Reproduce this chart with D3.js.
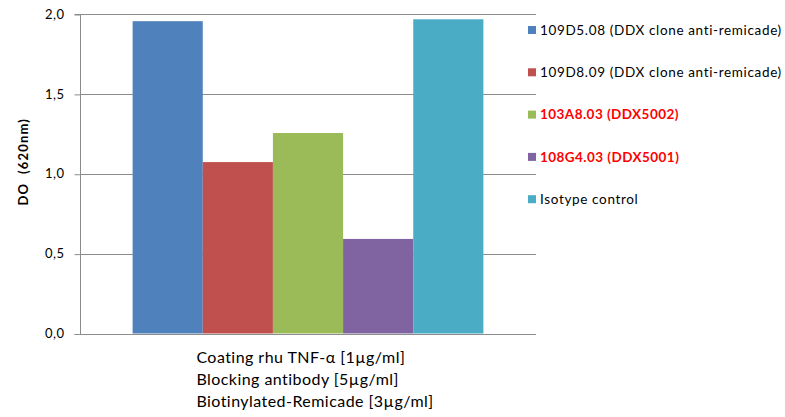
<!DOCTYPE html>
<html><head><meta charset="utf-8">
<script src="https://cdn.jsdelivr.net/npm/d3@7"></script>
<style>body{margin:0;background:#fff}</style>
</head><body>
<svg id="c" width="785" height="417"></svg>
<script>
const series = ["109D5.08 (DDX clone anti-remicade)","109D8.09 (DDX clone anti-remicade)","103A8.03 (DDX5002)","108G4.03 (DDX5001)","Isotype control"];
const values = [1.955, 1.073, 1.255, 0.592, 1.967];
const colors = ["#4f81bd","#c0504d","#9bbb59","#8064a2","#4bacc6"];
const legendTextColors = ["#000","#000","#ff0000","#ff0000","#000"];
const legendBold = [false,false,true,true,false];
const categoryLines = ["Coating rhu TNF-\u03b1 [1\u00b5g/ml]","Blocking antibody [5\u00b5g/ml]","Biotinylated-Remicade [3\u00b5g/ml]"];
const yTicks = [0,0.5,1.0,1.5,2.0];
const yTitle = "DO  (620nm)";

const svg = d3.select("#c");
const font = "Lato, 'Open Sans', sans-serif";
const L = 80, R = 536, T = 14, B = 333.5;
const y = d3.scaleLinear().domain([0,2]).range([B,T]);
const x0 = d3.scaleBand().domain(["cat"]).range([L,R]).paddingInner(0).paddingOuter(0);
// gap width 150% of bar width
const catW = x0.bandwidth();
const barW = catW/(series.length+1.5);
const x1 = d3.scaleBand().domain(series).range([L+barW*0.75, R-barW*0.75]).padding(0);

// gridlines
svg.append("g").selectAll("line").data(yTicks).join("line")
  .attr("x1",L).attr("x2",R).attr("y1",d=>Math.round(y(d))+0.5).attr("y2",d=>Math.round(y(d))+0.5)
  .attr("stroke","#8c8c8c").attr("stroke-width",1);

// y axis
const yAxis = d3.axisLeft(y).tickValues(yTicks).tickSize(6).tickPadding(10)
  .tickFormat(d=>d3.format(".1f")(d).replace(".",","));
const ga = svg.append("g").attr("transform",`translate(${L+0.5},0)`).call(yAxis);
ga.select(".domain").attr("stroke","#8c8c8c").attr("d",`M-6,${Math.round(T)+0.5}H0V${Math.round(B)+0.5}H-6`);
ga.selectAll(".tick line").attr("stroke","#8c8c8c").attr("transform","translate(0,0.5)");
ga.selectAll(".tick text").attr("font-family",font).attr("font-size",13).attr("fill","#000").attr("letter-spacing",0.5);

// bars
svg.append("g").selectAll("rect").data(values).join("rect")
  .attr("x",(d,i)=>x1(series[i])).attr("width",x1.bandwidth())
  .attr("y",d=>y(d)).attr("height",d=>B-y(d))
  .attr("fill",(d,i)=>colors[i]);

// y title
svg.append("text").attr("transform",`translate(28,${(T+B)/2 - 12}) rotate(-90)`)
  .attr("text-anchor","middle").attr("font-family",font).attr("font-weight","bold")
  .attr("font-size",13).attr("letter-spacing",1.2).style("white-space","pre").text(yTitle);

// category label (left-aligned block, centered under the category)
const cg = svg.append("g");
const ct = cg.selectAll("text").data(categoryLines).join("text")
  .attr("y",(d,i)=>363+i*22)
  .attr("font-family",font).attr("font-size",16).attr("letter-spacing",0.45).text(d=>d);
let maxW = 0; ct.each(function(){ maxW = Math.max(maxW, this.getComputedTextLength()); });
ct.attr("x", x0("cat")+catW/2 - maxW/2 + 7);

// legend
const lg = svg.append("g").selectAll("g").data(series).join("g")
  .attr("transform",(d,i)=>`translate(528,${30+i*42.3})`);
lg.append("rect").attr("x",0).attr("y",-4).attr("width",8).attr("height",8).attr("fill",(d,i)=>colors[i]);
lg.append("text").attr("x",12).attr("y",0).attr("dy","0.35em")
  .attr("font-family",font).attr("font-size",13.5)
  .attr("letter-spacing",(d,i)=>legendBold[i]?0.45:0.65)
  .attr("font-weight",(d,i)=>legendBold[i]?"bold":"normal")
  .attr("fill",(d,i)=>legendTextColors[i]).text(d=>d);
</script>
</body></html>
